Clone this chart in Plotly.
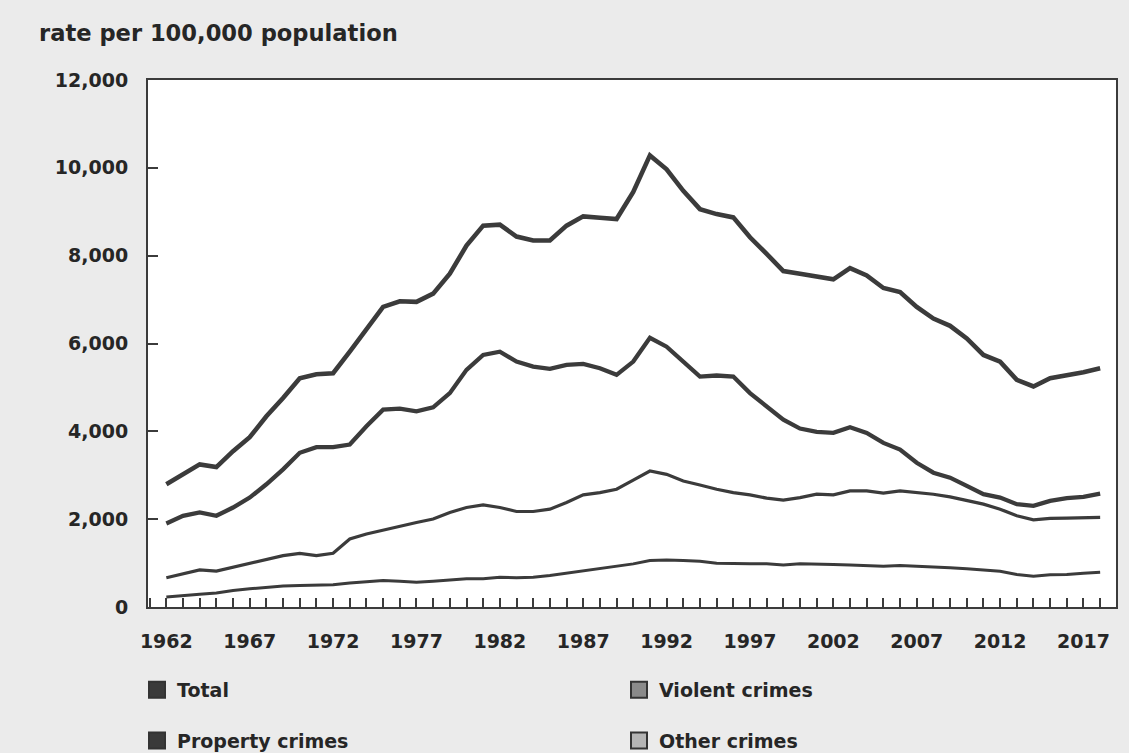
import plotly.graph_objects as go

years = list(range(1962, 2019))

total = [2795, 3021, 3248, 3187, 3549, 3866, 4342, 4757, 5210, 5300,
         5323, 5813, 6342, 6833, 6962, 6947, 7135, 7588, 8231, 8684,
         8707, 8435, 8344, 8344, 8684, 8895, 8865, 8834, 9450, 10283,
         9966, 9476, 9060, 8947, 8872, 8419, 8041, 7649, 7588, 7536,
         7461, 7717, 7551, 7264, 7173, 6833, 6568, 6403, 6115, 5739,
         5588, 5173, 5022, 5210, 5271, 5346, 5436]

property_crimes = [1903, 2077, 2152, 2077, 2265, 2492, 2795, 3135, 3511, 3640,
                   3640, 3700, 4116, 4493, 4516, 4455, 4546, 4870, 5400, 5739,
                   5814, 5588, 5475, 5422, 5513, 5535, 5436, 5286, 5588, 6131,
                   5927, 5588, 5248, 5271, 5248, 4870, 4569, 4267, 4063, 3987,
                   3964, 4093, 3964, 3737, 3586, 3284, 3058, 2945, 2757, 2568,
                   2492, 2342, 2303, 2417, 2478, 2507, 2582]

other_crimes = [665, 755, 846, 816, 906, 997, 1095, 1171, 1223, 1171,
                1223, 1548, 1661, 1752, 1850, 1925, 2002, 2152, 2265, 2326,
                2265, 2175, 2175, 2228, 2378, 2553, 2605, 2682, 2890, 3096,
                3021, 2870, 2779, 2682, 2605, 2553, 2478, 2432, 2492, 2568,
                2553, 2643, 2643, 2591, 2643, 2605, 2568, 2507, 2432, 2342,
                2228, 2077, 1986, 2016, 2024, 2039, 2039]

violent_crimes = [227, 250, 288, 318, 378, 416, 453, 476, 491, 491,
                  506, 544, 566, 605, 589, 566, 589, 620, 643, 643,
                  680, 665, 680, 718, 770, 831, 869, 929, 982, 1058,
                  1073, 1058, 1042, 997, 982, 982, 982, 959, 982, 982,
                  967, 959, 944, 929, 944, 929, 921, 891, 869, 846,
                  816, 740, 703, 733, 740, 770, 793]

y_ticks = [0, 2000, 4000, 6000, 8000, 10000, 12000]
x_ticks = [1962, 1967, 1972, 1977, 1982, 1987, 1992, 1997, 2002, 2007, 2012, 2017]

LINE = "#3b3b3b"
TXT = "#262626"
FONT = "DejaVu Sans"
BG = "#ebebeb"

fig = go.Figure()

series = [
    ("Total", total, 4.6),
    ("Property crimes", property_crimes, 4.3),
    ("Other crimes", other_crimes, 3.2),
    ("Violent crimes", violent_crimes, 3.0),
]
for name, vals, w in series:
    fig.add_trace(go.Scatter(x=years, y=vals, mode="lines", name=name,
                             line=dict(color=LINE, width=w), showlegend=False))

legend_items = [
    ("Total", "#3a3a3a", "legend", "g1"),
    ("Property crimes", "#3a3a3a", "legend", "g2"),
    ("Violent crimes", "#8a8a8a", "legend2", "g3"),
    ("Other crimes", "#b4b4b4", "legend2", "g4"),
]
for name, col, lg, grp in legend_items:
    fig.add_trace(go.Scatter(x=[None], y=[None], mode="markers", name=name,
                             legend=lg, legendgroup=grp,
                             marker=dict(symbol="square", size=16, color=col,
                                         line=dict(color="#333333", width=2))))

W, H = 1129, 753
L, R, T, B = 148, 1116, 80, 607
pw, ph = R - L, B - T

def px_x(x):
    return (x - L) / pw

def px_y(y):
    return (B - y) / ph

legend_font = dict(family=FONT, size=19, color=TXT, weight="bold")
tick_font = dict(family=FONT, size=19, color=TXT, weight="bold")

fig.update_layout(
    width=W, height=H,
    margin=dict(l=L, r=W - R, t=T, b=H - B, autoexpand=False),
    paper_bgcolor=BG,
    plot_bgcolor="#ffffff",
    font=dict(family=FONT, size=18, color=TXT),
    legend=dict(x=px_x(137), y=px_y(671), xanchor="left", yanchor="top",
                bgcolor="rgba(0,0,0,0)", tracegroupgap=23, font=legend_font),
    legend2=dict(x=px_x(619), y=px_y(671), xanchor="left", yanchor="top",
                 bgcolor="rgba(0,0,0,0)", tracegroupgap=23, font=legend_font),
    xaxis=dict(range=[1960.9, 2018.95], tickmode="array", tickvals=x_ticks,
               ticks="inside", ticklen=9, tickwidth=2, tickcolor=LINE,
               showline=True, linecolor=LINE, linewidth=2, mirror=True,
               showgrid=False, zeroline=False, ticklabelstandoff=16,
               tickfont=tick_font,
               minor=dict(dtick=1, tick0=1962, ticks="inside", ticklen=9,
                          tickwidth=2, tickcolor=LINE, showgrid=False)),
    yaxis=dict(range=[0, 12000], tickmode="array", tickvals=y_ticks,
               tickformat=",", ticks="inside", ticklen=10, tickwidth=2,
               tickcolor=LINE, showline=True, linecolor=LINE, linewidth=2,
               mirror=True, showgrid=False, zeroline=False,
               ticklabelstandoff=14, tickfont=tick_font),
    annotations=[dict(text="rate per 100,000 population", xref="paper", yref="paper",
                      x=px_x(37), y=px_y(33), xanchor="left", yanchor="middle",
                      showarrow=False,
                      font=dict(family=FONT, size=22.6, color=TXT, weight="bold"))],
)

fig.write_html("out.html",
               config={"displayModeBar": False},
               post_script="document.body.style.margin='0';"
                           "document.body.style.background='" + BG + "';"
                           "document.body.style.overflow='hidden';")
